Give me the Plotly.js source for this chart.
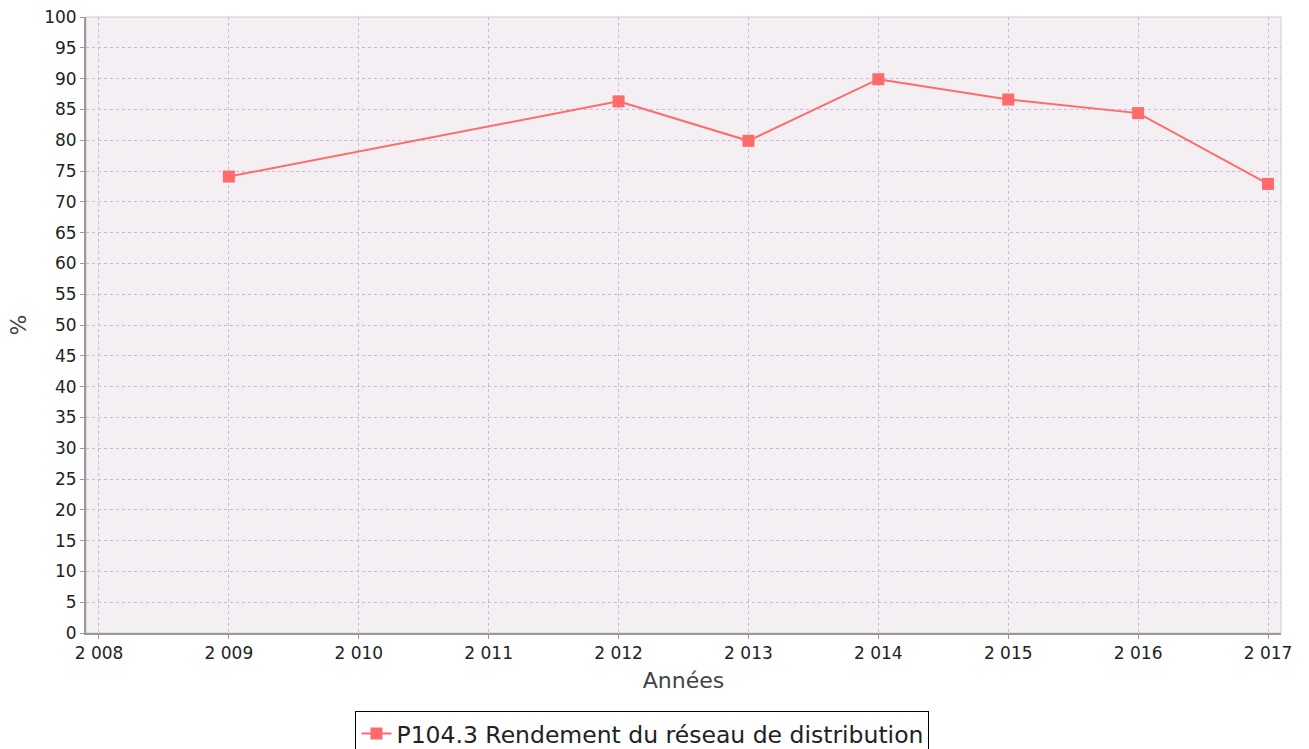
<!DOCTYPE html>
<html>
<head>
<meta charset="utf-8">
<script src="https://cdn.plot.ly/plotly-3.0.1.min.js"></script>
<style>html,body{margin:0;padding:0;background:#fff;}#chart{width:1309px;height:749px;}</style>
</head>
<body>
<div id="chart"></div>
<script>
const years = [2009, 2012, 2013, 2014, 2015, 2016, 2017];
const values = [74.1, 86.3, 79.9, 89.9, 86.6, 84.4, 72.9];
const xTickVals = [2008, 2009, 2010, 2011, 2012, 2013, 2014, 2015, 2016, 2017];
const xTickText = ["2 008", "2 009", "2 010", "2 011", "2 012", "2 013", "2 014", "2 015", "2 016", "2 017"];
const seriesName = "P104.3 Rendement du réseau de distribution";

const font = "DejaVu Sans, sans-serif";
const gridColor = "#d2b4d6";

Plotly.newPlot("chart", [{
  x: years,
  y: values,
  type: "scatter",
  mode: "lines+markers",
  name: seriesName,
  line: {color: "#ff6b6b", width: 2},
  marker: {symbol: "square", size: 12, color: "#ff6b6b"}
}], {
  width: 1309,
  height: 749,
  margin: {l: 86, r: 28, t: 17, b: 116, autoexpand: false},
  paper_bgcolor: "#ffffff",
  plot_bgcolor: "#f3eff3",
  font: {family: font, color: "#333333"},
  showlegend: true,
  legend: {
    orientation: "h",
    xref: "container", yref: "container",
    x: 0.4908, xanchor: "center",
    y: 0.051, yanchor: "top",
    bordercolor: "#000000", borderwidth: 1,
    font: {family: font, size: 23.5, color: "#222222"},
    bgcolor: "#ffffff"
  },
  xaxis: {
    range: [2007.9, 2017.1],
    tickmode: "array",
    tickvals: xTickVals,
    ticktext: xTickText,
    tickfont: {family: font, size: 17, color: "#222222"},
    ticks: "outside", ticklen: 4, tickcolor: "#999999",
    showgrid: true, gridcolor: gridColor, griddash: "3px,3px", gridwidth: 1,
    showline: true, linecolor: "#999999", linewidth: 2,
    mirror: false, zeroline: false, automargin: false,
    title: {text: "Années", font: {family: font, size: 22, color: "#444444"}, standoff: 10}
  },
  yaxis: {
    range: [0, 100],
    tickmode: "linear", tick0: 0, dtick: 5,
    tickfont: {family: font, size: 17, color: "#222222"},
    ticks: "outside", ticklen: 4, tickcolor: "#999999",
    showgrid: true, gridcolor: gridColor, griddash: "3px,3px", gridwidth: 1,
    showline: true, linecolor: "#999999", linewidth: 2,
    zeroline: false, automargin: false,
    title: {text: "%", font: {family: font, size: 22, color: "#444444"}, standoff: 11}
  },
  shapes: [{
    type: "rect", xref: "paper", yref: "paper", x0: 0, x1: 1, y0: 0, y1: 1,
    line: {color: "#cccccc", width: 1}, fillcolor: "rgba(0,0,0,0)", layer: "below"
  }]
}, {displayModeBar: false, staticPlot: true});
</script>
</body>
</html>
